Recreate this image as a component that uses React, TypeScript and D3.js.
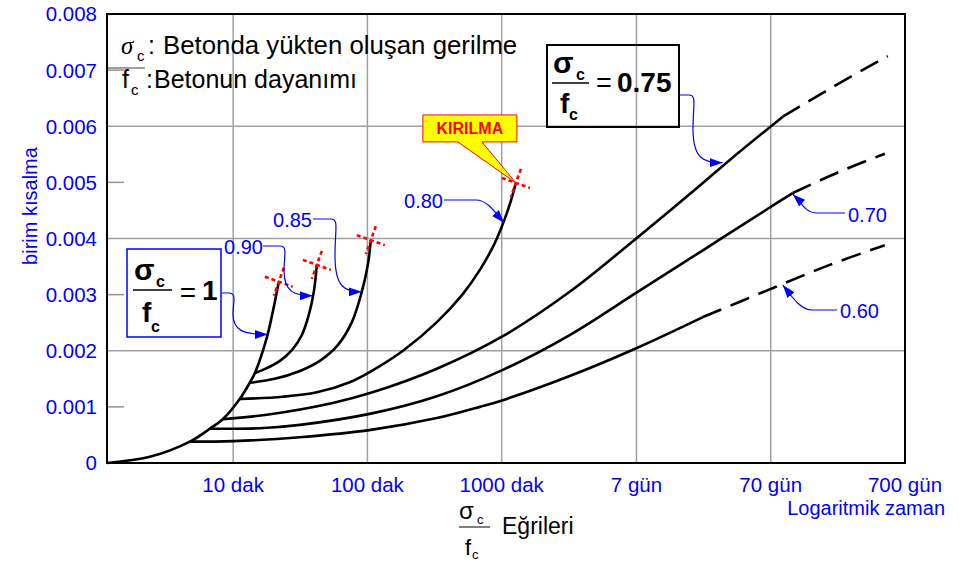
import React from 'react';
import * as d3 from 'd3';

type P = [number, number];

// ---- axis data ----
const xTickValues = [10, 100, 1000, 10080, 100800, 1008000];
const xTickLabels = ['10 dak', '100 dak', '1000 dak', '7 gün', '70 gün', '700 gün'];
const yTickValues = [0, 0.001, 0.002, 0.003, 0.004, 0.005, 0.006, 0.007, 0.008];
const yTickLabels = ['0', '0.001', '0.002', '0.003', '0.004', '0.005', '0.006', '0.007', '0.008'];
const yGridValues = [0.002, 0.004, 0.006];
const yMinorValues = [0.001, 0.003, 0.005, 0.007];

// ---- curves: [minutes, strain] ----
const envelope: P[] = [[1.15, 0], [2.4, 0.00011], [4.76, 0.00038], [6.7, 0.00061], [8.37, 0.00078], [11.2, 0.00114], [13.3, 0.00143], [14.5, 0.0016], [17.8, 0.00223], [19.8, 0.00271], [21.9, 0.00323]];
const c090: P[] = [[14.5, 0.0016], [17.8, 0.00169], [22.3, 0.00182], [27.4, 0.00201], [32.5, 0.00228], [36.6, 0.00264], [39.9, 0.00305], [42, 0.00353]];
const c085: P[] = [[13.3, 0.00143], [20.4, 0.0015], [31.4, 0.00164], [44.2, 0.00182], [60.2, 0.0021], [76.6, 0.00251], [90.8, 0.00305], [100.7, 0.00353], [106, 0.00397]];
const c080: P[] = [[11.2, 0.00114], [23.4, 0.00118], [42, 0.00126], [73.9, 0.00144], [104, 0.00162], [184, 0.002], [329, 0.00251], [513, 0.00301], [688, 0.00344], [889, 0.00392], [1054, 0.00435], [1170, 0.00467], [1276, 0.00499]];
const c075: P[] = [[8.37, 0.00078], [17.8, 0.00086], [55.2, 0.00107], [106, 0.00125], [329, 0.00168], [1020, 0.00226], [3210, 0.00305], [10150, 0.00401], [31500, 0.00499], [50000, 0.0054], [124000, 0.00617]];
const c075Dash: P[] = [[124000, 0.00617], [302000, 0.00672], [750000, 0.00725]];
const c070: P[] = [[6.7, 0.00061], [15.8, 0.00062], [31.4, 0.00068], [106, 0.00088], [329, 0.00119], [1020, 0.00166], [3210, 0.00228], [10150, 0.00304], [31500, 0.00379], [95900, 0.00453], [147000, 0.00481]];
const c070Dash: P[] = [[147000, 0.00481], [329000, 0.00519], [713000, 0.00551]];
const c060: P[] = [[4.76, 0.00038], [10, 0.00039], [31.4, 0.00046], [106, 0.00059], [329, 0.0008], [688, 0.001], [1020, 0.00112], [3210, 0.00155], [10150, 0.00205], [31500, 0.0026]];
const c060Dash: P[] = [[31500, 0.0026], [95900, 0.00308], [277000, 0.00353], [713000, 0.00388]];

// annotation arrow tips on curves [minutes, strain]
const tip1: P = [18.1, 0.00229];
const tip090: P = [39.2, 0.00298];
const tip085: P = [90.8, 0.00305];
const tip080: P = [1040, 0.00428];
const tip075: P = [44200, 0.00535];
const tip070: P = [147000, 0.00479];
const tip060: P = [124000, 0.00317];

const W = 959, H = 563;
const M = { left: 107, right: 905, top: 14, bottom: 463 };
const BLUE = '#0000ff';
const SANS = '"Liberation Sans", Arial, Helvetica, sans-serif';

export default function App() {
  const x = d3.scaleLog().domain([1.15, 1008000]).range([M.left, M.right]);
  const y = d3.scaleLinear().domain([0, 0.008]).range([M.bottom, M.top]);
  const line = d3.line<P>().x(d => x(d[0])).y(d => y(d[1])).curve(d3.curveCatmullRom.alpha(0.5));
  const px = (p: P) => [x(p[0]), y(p[1])];

  const solid = [envelope, c090, c085, c080, c075, c070, c060];
  const dashed = [c075Dash, c070Dash, c060Dash];
  const breaks = [envelope, c090, c085, c080].map(c => px(c[c.length - 1]));

  // hook arrow: leaves label horizontally to the right, bends down to the tip
  const hook = (sx: number, sy: number, tx: number, ty: number, h: number) => {
    const mx = sx + h + 4;
    const midY = (sy + ty) / 2;
    return `M${sx},${sy} L${sx + h},${sy} C${sx + h + 8},${sy} ${mx},${sy + 10} ${mx},${midY} C${mx},${ty - 4} ${mx + 10},${ty} ${tx},${ty}`;
  };
  const swoop = (sx: number, sy: number, tx: number, ty: number, h: number) => {
    const dir = tx > sx ? 1 : -1;
    const ex = sx + dir * h;
    return `M${sx},${sy} L${ex},${sy} C${ex + dir * 12},${sy} ${tx - dir * 8},${ty - (ty - sy) * 0.4} ${tx},${ty}`;
  };

  const [t1x, t1y] = px(tip1);
  const [t90x, t90y] = px(tip090);
  const [t85x, t85y] = px(tip085);
  const [t80x, t80y] = px(tip080);
  const [t75x, t75y] = px(tip075);
  const [t70x, t70y] = px(tip070);
  const [t60x, t60y] = px(tip060);
  const [kx, ky] = px(c080[c080.length - 1]);

  return (
    <svg width={W} height={H} style={{ position: 'absolute', left: 0, top: 0, background: '#fff' }} fontFamily={SANS}>
      <defs>
        <marker id="ah" viewBox="0 0 10 10" refX="10" refY="5" markerWidth="13" markerHeight="9" markerUnits="userSpaceOnUse" orient="auto" preserveAspectRatio="none">
          <path d="M0,0 L10,5 L0,10 z" fill={BLUE} />
        </marker>
      </defs>
      <rect x={0} y={0} width={W} height={H} fill="#fff" />

      {/* grid */}
      {xTickValues.slice(0, 5).map((v, i) => (
        <line key={'gx' + i} x1={x(v)} x2={x(v)} y1={M.top} y2={M.bottom} stroke="#a0a0a0" strokeWidth={1.5} />
      ))}
      {yGridValues.map((v, i) => (
        <line key={'gy' + i} x1={M.left} x2={M.right} y1={y(v)} y2={y(v)} stroke="#a0a0a0" strokeWidth={1.5} />
      ))}
      {yMinorValues.map((v, i) => (
        <line key={'my' + i} x1={M.left} x2={M.left + 17} y1={y(v)} y2={y(v)} stroke="#909090" strokeWidth={1.5} />
      ))}

      {/* frame */}
      <rect x={M.left} y={M.top} width={M.right - M.left} height={M.bottom - M.top} fill="none" stroke="#000" strokeWidth={2} />

      {/* y ticks */}
      {yTickValues.map((v, i) => (
        <text key={'yt' + i} x={97} y={y(v)} dy="0.36em" textAnchor="end" fontSize={20.5} fill={BLUE}>{yTickLabels[i]}</text>
      ))}
      {/* x ticks */}
      {xTickValues.map((v, i) => (
        <text key={'xt' + i} x={x(v)} y={492} textAnchor="middle" fontSize={20.5} fill={BLUE}>{xTickLabels[i]}</text>
      ))}
      <text x={945} y={515} textAnchor="end" fontSize={20} fill={BLUE}>Logaritmik zaman</text>
      <text transform="translate(37,206) rotate(-90)" textAnchor="middle" fontSize={20} fill={BLUE}>birim kısalma</text>

      {/* curves */}
      {solid.map((c, i) => (
        <path key={'c' + i} d={line(c) || ''} fill="none" stroke="#000" strokeWidth={2.6} strokeLinejoin="round" />
      ))}
      {dashed.map((c, i) => (
        <path key={'d' + i} d={line(c) || ''} fill="none" stroke="#000" strokeWidth={2.6} strokeDasharray="20 10" />
      ))}

      {/* failure markers */}
      {breaks.map(([bx, by], i) => (
        <g key={'b' + i} transform={`translate(${bx},${by})`} stroke="#ff0000" strokeWidth={2.6} strokeDasharray="4 3">
          <line x1={-14} y1={-5} x2={14} y2={5} />
          <line x1={5} y1={-14} x2={-5} y2={14} />
        </g>
      ))}

      {/* KIRILMA callout */}
      <path d={`M${kx - 93},${ky - 68} H${kx + 1} V${ky - 41} H${kx - 34} L${kx},${ky} L${kx - 58},${ky - 41} H${kx - 93} Z`} fill="#ffff00" stroke="#ff0000" strokeWidth={1} />
      <text x={kx - 46} y={ky - 49} textAnchor="middle" fontSize={16} fontWeight="bold" fill="#ff0000">KIRILMA</text>

      {/* legend */}
      <text x={121} y={54} fontSize={25} fontStyle="italic" fontFamily='"Liberation Serif", "DejaVu Serif", serif'>σ</text>
      <text x={137} y={61} fontSize={15}>c</text>
      <text x={148} y={54} fontSize={25}>:</text>
      <text x={163} y={54} fontSize={25.8}>Betonda yükten oluşan gerilme</text>
      <line x1={108} x2={145} y1={68} y2={68} stroke="#808080" strokeWidth={1.5} />
      <text x={122} y={88} fontSize={25}>f</text>
      <text x={131} y={95} fontSize={15}>c</text>
      <text x={146} y={88} fontSize={25}>:</text>
      <text x={154} y={88} fontSize={25}>Betonun dayanımı</text>

      {/* sigma/fc = 1 box */}
      <rect x={127} y={249} width={94} height={88} fill="none" stroke={BLUE} strokeWidth={1.5} />
      <text x={134} y={280} fontSize={30} fontWeight="bold">σ</text>
      <text x={156} y={287} fontSize={16} fontWeight="bold">c</text>
      <line x1={133} x2={172} y1={290} y2={290} stroke="#000" strokeWidth={1.5} />
      <text x={142} y={322} fontSize={28} fontWeight="bold">f</text>
      <text x={151} y={332} fontSize={16} fontWeight="bold">c</text>
      <text x={188} y={302} textAnchor="middle" fontSize={28}>=</text>
      <text x={202} y={300} fontSize={28} fontWeight="bold">1</text>
      <path d={hook(221, 293, t1x, t1y, 8)} fill="none" stroke={BLUE} strokeWidth={1.2} markerEnd="url(#ah)" />

      {/* sigma/fc = 0.75 box */}
      <rect x={547} y={45} width={132} height={82} fill="none" stroke="#000" strokeWidth={2} />
      <text x={553} y={73} fontSize={30} fontWeight="bold">σ</text>
      <text x={576} y={80} fontSize={16} fontWeight="bold">c</text>
      <line x1={552} x2={589} y1={83} y2={83} stroke="#000" strokeWidth={1.5} />
      <text x={560} y={113} fontSize={28} fontWeight="bold">f</text>
      <text x={569} y={120} fontSize={16} fontWeight="bold">c</text>
      <text x={604} y={92} textAnchor="middle" fontSize={27}>=</text>
      <text x={617} y={92} fontSize={28} fontWeight="bold">0.75</text>
      <path d={hook(679, 95, t75x, t75y, 10)} fill="none" stroke={BLUE} strokeWidth={1.2} markerEnd="url(#ah)" />

      {/* ratio labels */}
      <text x={263} y={254} textAnchor="end" fontSize={20} fill={BLUE}>0.90</text>
      <path d={hook(263, 246, t90x, t90y, 17)} fill="none" stroke={BLUE} strokeWidth={1.2} markerEnd="url(#ah)" />
      <text x={312} y={227} textAnchor="end" fontSize={20} fill={BLUE}>0.85</text>
      <path d={hook(313, 219, t85x, t85y, 18)} fill="none" stroke={BLUE} strokeWidth={1.2} markerEnd="url(#ah)" />
      <text x={443} y={208} textAnchor="end" fontSize={20} fill={BLUE}>0.80</text>
      <path d={swoop(444, 200, t80x, t80y, 32)} fill="none" stroke={BLUE} strokeWidth={1.2} markerEnd="url(#ah)" />
      <text x={848} y={222} fontSize={20} fill={BLUE}>0.70</text>
      <path d={swoop(845, 213, t70x, t70y, 28)} fill="none" stroke={BLUE} strokeWidth={1.2} markerEnd="url(#ah)" />
      <text x={840} y={318} fontSize={20} fill={BLUE}>0.60</text>
      <path d={swoop(837, 310, t60x, t60y, 25)} fill="none" stroke={BLUE} strokeWidth={1.2} markerEnd="url(#ah)" />

      {/* bottom caption */}
      <text x={459} y={519} fontSize={24}>σ</text>
      <text x={477} y={524} fontSize={13}>c</text>
      <line x1={459} x2={490} y1={527} y2={527} stroke="#000" strokeWidth={1} />
      <text x={465} y={555} fontSize={22}>f</text>
      <text x={472} y={559} fontSize={13}>c</text>
      <text x={502} y={534} fontSize={23}>Eğrileri</text>
    </svg>
  );
}
